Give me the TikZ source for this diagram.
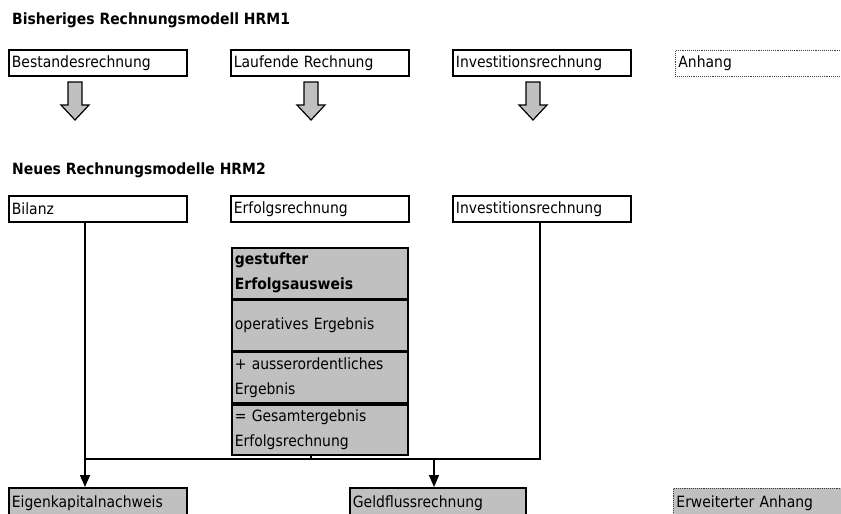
\documentclass[tikz,border=0pt]{standalone}
\usepackage{fontspec}
\setmainfont{DejaVu Sans Condensed}
\usepackage{tikz}
\usepackage{xcolor}
\usetikzlibrary{arrows.meta,shapes}
\definecolor{boxgray}{HTML}{C0C0C0}

\begin{document}
\begin{tikzpicture}[x=1pt,y=-1pt,
        every node/.style={font=\fontsize{15.5}{25}\selectfont, inner ysep=0pt, inner xsep=3pt},
        title/.style={anchor=west, font=\fontsize{15.5}{18}\selectfont\bfseries},
        box/.style={draw, line width=1.8pt, anchor=north west, minimum width=178pt,
            minimum height=26pt, text width=172pt, align=left},
        graybox/.style={box, fill=boxgray},
        faintbox/.style={box, draw=darkgray, line width=0.9pt, densely dotted,
            minimum width=190pt, text width=184pt},
        stack/.style={graybox, anchor=north, minimum width=176pt, text width=170pt, minimum height=50.5pt},
        conn/.style={line width=1.6pt},
        tip/.style={-{Triangle[width=10pt,length=12pt]}},
        blockarrow/.style={line width=1.2pt, fill=boxgray, line join=miter}]
        \useasboundingbox (0,0) rectangle (841,514);
        \clip (0,0) rectangle (841,514);
        %HRM1
        \node[title] (t1) at (9,20) {Bisheriges Rechnungsmodell HRM1};
        \node[box] (best) at (8,49) {Bestandesrechnung};
        \node[box] (lauf) at (230,49) {Laufende Rechnung};
        \node[box] (inv1) at (452,49) {Investitionsrechnung};
        \node[faintbox] (anh) at (675,50) {Anhang};
        \foreach \x in {75,311,533}
            \draw[blockarrow] (\x-7,82) -- (\x+7,82) -- (\x+7,105) -- (\x+14,105)
                -- (\x,120) -- (\x-14,105) -- (\x-7,105) -- cycle;
        %HRM2
        \node[title] (t2) at (9,170) {Neues Rechnungsmodelle HRM2};
        \node[box] (bil) at (8,195) {Bilanz};
        \node[box] (erf) at (230,195) {Erfolgsrechnung};
        \node[box] (inv2) at (452,195) {Investitionsrechnung};
        \node[stack, anchor=north west] (s1) at (231,247) {\bfseries gestufter\\Erfolgsausweis};
        \node[stack] (s2) at (s1.south) {operatives Ergebnis};
        \node[stack] (s3) at (s2.south) {+ ausserordentliches\\Ergebnis};
        \node[stack] (s4) at (s3.south) {= Gesamtergebnis\\Erfolgsrechnung};
        \node[graybox, minimum height=30pt] (ekn) at (8,487) {Eigenkapitalnachweis};
        \node[graybox, minimum width=176pt, text width=170pt, minimum height=30pt] (gfr) at (349,487) {Geldflussrechnung};
        \node[faintbox, fill=boxgray, minimum height=30pt] (ean) at (673,488) {Erweiterter Anhang};
        \coordinate (jl) at (85,459);
        \coordinate (jr) at (540,459);
        \coordinate (js) at (311,459);
        \coordinate (jg) at (434,459);
        \draw[conn] (bil.south -| jl) -- (jl) -- (jr) -- (inv2.south -| jr);
        \draw[conn] (s4.south -| js) -- (js);
        \draw[conn, tip] (jl) -- (ekn.north -| jl);
        \draw[conn, tip] (jg) -- (gfr.north -| jg);
\end{tikzpicture}
\end{document}
